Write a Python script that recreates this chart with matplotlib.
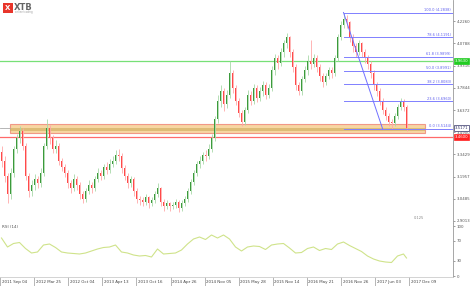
import numpy as np
import matplotlib.pyplot as plt
import matplotlib.patches as mpatches
import matplotlib.transforms as mtransforms

# candle data (one candle ~ every 2.4 weeks)
first_open = 3.36
closes = [3.30, 3.20, 3.08, 3.22, 3.38, 3.45, 3.50, 3.40, 3.20, 3.10,
          3.14, 3.18, 3.15, 3.22, 3.40, 3.52, 3.45, 3.38, 3.40, 3.30,
          3.26, 3.22, 3.15, 3.12, 3.18, 3.14, 3.08, 3.05, 3.10, 3.14,
          3.12, 3.18, 3.22, 3.20, 3.26, 3.24, 3.28, 3.30, 3.34, 3.33,
          3.25, 3.20, 3.15, 3.18, 3.10, 3.05, 3.04, 3.03, 3.06, 3.02,
          3.04, 3.08, 3.12, 3.03, 3.00, 3.02, 3.00, 3.01, 3.03, 2.99,
          3.02, 3.05, 3.10, 3.16, 3.22, 3.28, 3.30, 3.34, 3.33, 3.38,
          3.45, 3.58, 3.70, 3.76, 3.68, 3.74, 3.88, 3.78, 3.70, 3.62,
          3.56, 3.64, 3.74, 3.70, 3.78, 3.72, 3.76, 3.80, 3.74, 3.78,
          3.90, 3.98, 3.95, 4.02, 4.08, 4.12, 4.02, 3.92, 3.80, 3.76,
          3.84, 3.90, 3.96, 3.94, 3.98, 3.92, 3.86, 3.82, 3.86, 3.90,
          3.88, 3.98, 4.12, 4.20, 4.24, 4.22, 4.12, 4.06, 4.02, 4.08,
          4.02, 3.98, 3.94, 3.88, 3.80, 3.76, 3.70, 3.64, 3.60, 3.56,
          3.55, 3.60, 3.66, 3.70, 3.66, 3.5171]
highs = [3.40, 3.33, 3.22, 3.25, 3.40, 3.48, 3.53, 3.52, 3.42, 3.22,
         3.17, 3.21, 3.20, 3.25, 3.42, 3.58, 3.54, 3.47, 3.44, 3.42,
         3.32, 3.28, 3.24, 3.17, 3.21, 3.20, 3.16, 3.10, 3.12, 3.17,
         3.16, 3.20, 3.25, 3.24, 3.28, 3.29, 3.31, 3.33, 3.37, 3.38,
         3.35, 3.27, 3.22, 3.20, 3.19, 3.12, 3.07, 3.06, 3.08, 3.07,
         3.06, 3.10, 3.15, 3.13, 3.05, 3.04, 3.03, 3.03, 3.05, 3.04,
         3.04, 3.07, 3.12, 3.18, 3.24, 3.30, 3.33, 3.36, 3.37, 3.41,
         3.48, 3.60, 3.74, 3.80, 3.78, 3.77, 3.96, 3.90, 3.80, 3.72,
         3.64, 3.66, 3.77, 3.76, 3.81, 3.80, 3.79, 3.83, 3.82, 3.81,
         3.93, 4.01, 4.00, 4.05, 4.10, 4.15, 4.13, 4.04, 3.94, 3.82,
         3.86, 3.93, 4.00, 4.10, 4.01, 4.00, 3.94, 3.88, 3.88, 3.92,
         3.92, 4.00, 4.14, 4.23, 4.2838, 4.27, 4.23, 4.14, 4.08, 4.10,
         4.09, 4.04, 4.00, 3.96, 3.90, 3.82, 3.78, 3.72, 3.66, 3.62,
         3.58, 3.62, 3.68, 3.72, 3.71, 3.67]
lows = [3.26, 3.16, 3.02, 3.05, 3.19, 3.35, 3.42, 3.37, 3.17, 3.06,
        3.07, 3.11, 3.12, 3.13, 3.20, 3.38, 3.41, 3.35, 3.35, 3.27,
        3.23, 3.19, 3.12, 3.09, 3.10, 3.11, 3.05, 3.02, 3.03, 3.08,
        3.09, 3.10, 3.16, 3.17, 3.18, 3.21, 3.22, 3.26, 3.28, 3.30,
        3.22, 3.17, 3.12, 3.13, 3.07, 3.02, 3.01, 3.00, 3.01, 2.99,
        3.00, 3.02, 3.06, 3.00, 2.97, 2.98, 2.97, 2.98, 2.99, 2.96,
        2.97, 3.00, 3.03, 3.08, 3.14, 3.20, 3.25, 3.28, 3.30, 3.31,
        3.36, 3.43, 3.55, 3.66, 3.63, 3.65, 3.72, 3.75, 3.67, 3.59,
        3.53, 3.54, 3.62, 3.67, 3.68, 3.69, 3.70, 3.73, 3.71, 3.72,
        3.76, 3.87, 3.91, 3.93, 3.99, 4.05, 3.99, 3.89, 3.77, 3.74,
        3.74, 3.82, 3.87, 3.91, 3.92, 3.89, 3.83, 3.79, 3.80, 3.84,
        3.85, 3.86, 3.96, 4.10, 4.18, 4.18, 4.09, 4.02, 3.99, 4.00,
        3.99, 3.95, 3.91, 3.85, 3.77, 3.73, 3.67, 3.61, 3.57, 3.53,
        3.5144, 3.53, 3.58, 3.64, 3.63, 3.50]

rsi_values = [76, 58, 65, 67, 55, 46, 48, 62, 64, 57,
              48, 46, 45, 44, 46, 50, 54, 57, 58, 62,
              48, 46, 42, 40, 41, 38, 54, 44, 45, 46,
              52, 64, 74, 78, 73, 82, 76, 82, 74, 58,
              50, 58, 60, 59, 53, 62, 64, 65, 56, 46,
              47, 55, 58, 51, 55, 53, 64, 68, 61, 55,
              49, 40, 34, 30, 28, 27, 40, 44, 36]

price_ticks = [4.2260, 4.0788, 3.9316, 3.7844, 3.6372, 3.4900,
               3.3429, 3.1957, 3.0485, 2.9013]
rsi_ticks = [0, 30, 70, 100]
date_labels = ["2011 Sep 04", "2012 Mar 25", "2012 Oct 04", "2013 Apr 13",
               "2013 Oct 16", "2014 Apr 26", "2014 Nov 05", "2015 May 28",
               "2015 Nov 14", "2016 May 21", "2016 Nov 26", "2017 Jun 03",
               "2017 Dec 09"]

fib_pcts = [0.0, 23.6, 38.2, 50.0, 61.8, 78.6, 100.0]
fib_low = 3.5144
fib_high = 4.2838
green_level = 3.9630
red_level = 3.4600
last_price = closes[-1]
zone_outer = (3.488, 3.544)
zone_inner = (3.498, 3.521)

W, H = 471, 286
fig = plt.figure(figsize=(W / 100, H / 100), dpi=100)
fig.patch.set_facecolor('white')

ax = fig.add_axes([0, 1 - 223 / H, 453 / W, 223 / H])
ax.set_xlim(-0.5, 150.5)
ax.set_ylim(2.888, 4.3667)

idx = np.arange(len(closes))
c = np.array(closes)
o = np.concatenate([[first_open], c[:-1]])
hi = np.array(highs)
lo = np.array(lows)
up = c >= o
wick_col = np.where(up, '#a8d8a8', '#ffa8a8')
body_col = np.where(up, '#3c9a3c', '#ff4a4a')

# zone + levels behind the candles
ax.add_patch(mpatches.Rectangle((2.8, zone_outer[0]), 138.4, zone_outer[1] - zone_outer[0],
                                facecolor='#f6cf92', edgecolor='#f08a7a', lw=0.8, alpha=0.85, zorder=1))
ax.add_patch(mpatches.Rectangle((2.8, zone_inner[0]), 138.4, zone_inner[1] - zone_inner[0],
                                facecolor='#d2b264', edgecolor='none', alpha=0.7, zorder=1))
ax.plot([-0.5, 2.8], [3.52, 3.52], color='#aaaaaa', lw=0.6, zorder=1)
ax.axhline(green_level, color='#77e077', lw=0.9, zorder=1)
ax.axhline(red_level, color='#ff6a6a', lw=0.9, zorder=1)

ax.vlines(idx, lo, hi, colors=wick_col, lw=0.6, zorder=2)
body_h = np.maximum(np.abs(c - o), 0.004)
ax.bar(idx, body_h, bottom=np.minimum(o, c), width=0.6, color=body_col, zorder=3)

# fibonacci retracement
peak_i = int(np.argmax(hi))
for p in fib_pcts:
    lvl = fib_low + p / 100 * (fib_high - fib_low)
    ax.plot([peak_i, 150.5], [lvl, lvl], color='#8080ff', lw=0.7, zorder=4)
    ax.text(149.8, lvl + 0.004, f"{p:.1f} ({lvl:.4f})", fontsize=2.6, color='#6060ee',
            ha='right', va='bottom', zorder=5)
ax.plot([peak_i, 127], [fib_high, fib_low], color='#7070ff', lw=0.7, zorder=4)

ax.text(137.5, 2.905, "0.125", fontsize=2.6, color='#888888', ha='left', va='bottom')

for s in ['top', 'left']:
    ax.spines[s].set_visible(False)
ax.spines['right'].set_color('#999999')
ax.spines['right'].set_linewidth(0.6)
ax.spines['bottom'].set_color('#bbbbbb')
ax.spines['bottom'].set_linewidth(0.6)
ax.yaxis.tick_right()
ax.set_yticks(price_ticks)
ax.set_yticklabels([f"{t:.4f}" for t in price_ticks])
ax.tick_params(axis='y', labelsize=2.8, colors='#555555', length=1.5, width=0.4, pad=1)
ax.tick_params(axis='x', bottom=False, labelbottom=False)

# price tags on the axis
tags = [(green_level, '#22cc22', 'white', '#22cc22'),
        (last_price, 'white', '#333366', '#333366'),
        (red_level, '#ff2020', 'white', '#ff2020')]
for val, fc, tc, ec in tags:
    ax.text(151.0, val, f"{val:.4f}", fontsize=2.8, color=tc, ha='left', va='center',
            clip_on=False, zorder=6,
            bbox=dict(boxstyle='square,pad=0.2', fc=fc, ec=ec, lw=0.5))

# RSI panel
ax_r = fig.add_axes([0, 1 - 277 / H, 453 / W, 54 / H])
ax_r.set_xlim(-0.5, 150.5)
ax_r.set_ylim(-2, 106)
rsi_pos = list(range(0, 136, 2)) + [135]
ax_r.plot(rsi_pos, rsi_values, color='#cfe38a', lw=0.8)
ax_r.spines['top'].set_visible(False)
ax_r.spines['left'].set_visible(False)
ax_r.spines['right'].set_color('#999999')
ax_r.spines['right'].set_linewidth(0.6)
ax_r.spines['bottom'].set_color('#cccccc')
ax_r.spines['bottom'].set_linewidth(0.6)
ax_r.yaxis.tick_right()
ax_r.set_yticks(rsi_ticks)
ax_r.tick_params(axis='y', labelsize=2.8, colors='#555555', length=1.5, width=0.4, pad=1)
ax_r.text(0.004, 0.97, "RSI (14)", transform=ax_r.transAxes, fontsize=3.0,
          color='#555555', ha='left', va='top')

tick_pos = np.arange(len(date_labels)) * 11.37 - 0.5
ax_r.set_xticks(tick_pos)
ax_r.tick_params(axis='x', length=8, width=0.5, colors='#999999', direction='out',
                 labelbottom=False)
trans = mtransforms.blended_transform_factory(ax_r.transData, ax_r.transAxes)
for p, lab in zip(tick_pos, date_labels):
    ax_r.text(p + 0.5, -0.06, lab, transform=trans, fontsize=2.9, color='#444444',
              ha='left', va='top', clip_on=False)

# logo
fig.patches.append(mpatches.Rectangle((3 / W, 1 - 13 / H), 10 / W, 10 / H,
                                      transform=fig.transFigure, fc='#e8352b', ec='none'))
fig.text(8 / W, 1 - 8 / H, "X", fontsize=5, color='white', weight='bold', ha='center', va='center')
fig.text(14 / W, 1 - 7 / H, "XTB", fontsize=6, color='#666666', weight='bold', ha='left', va='center')
fig.text(15 / W, 1 - 12.5 / H, "online trading", fontsize=1.8, color='#999999', ha='left', va='center')

fig.savefig('out.png', dpi=100, facecolor='white')
